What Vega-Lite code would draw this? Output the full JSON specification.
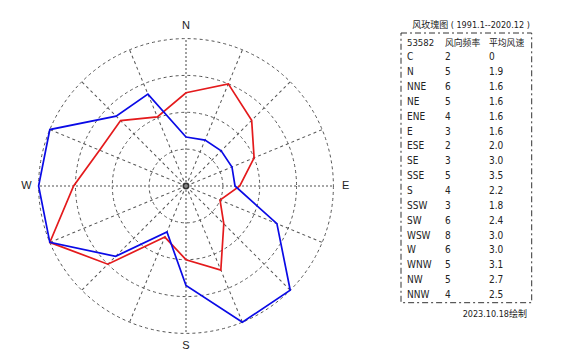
{
  "$schema": "https://vega.github.io/schema/vega-lite/v6.json",
  "padding": 0,
  "spacing": 0,
  "bounds": "flush",
  "background": "white",
  "config": {"view": {"stroke": null}, "concat": {"spacing": 0}},
  "datasets": {
    "dirs": [
      {"idx": 0, "dir": "N", "deg": 0, "blue": 1.33, "red": 2.53},
      {"idx": 1, "dir": "NNE", "deg": 22.5, "blue": 1.35, "red": 3.0},
      {"idx": 2, "dir": "NE", "deg": 45, "blue": 1.35, "red": 2.52},
      {"idx": 3, "dir": "ENE", "deg": 67.5, "blue": 1.35, "red": 2.0},
      {"idx": 4, "dir": "E", "deg": 90, "blue": 1.33, "red": 1.46},
      {"idx": 5, "dir": "ESE", "deg": 112.5, "blue": 2.67, "red": 1.0},
      {"idx": 6, "dir": "SE", "deg": 135, "blue": 4.0, "red": 1.45},
      {"idx": 7, "dir": "SSE", "deg": 157.5, "blue": 4.0, "red": 2.47},
      {"idx": 8, "dir": "S", "deg": 180, "blue": 2.7, "red": 2.0},
      {"idx": 9, "dir": "SSW", "deg": 202.5, "blue": 1.35, "red": 1.5},
      {"idx": 10, "dir": "SW", "deg": 225, "blue": 2.7, "red": 3.0},
      {"idx": 11, "dir": "WSW", "deg": 247.5, "blue": 4.0, "red": 4.0},
      {"idx": 12, "dir": "W", "deg": 270, "blue": 4.0, "red": 3.05},
      {"idx": 13, "dir": "WNW", "deg": 292.5, "blue": 4.0, "red": 2.54},
      {"idx": 14, "dir": "NW", "deg": 315, "blue": 2.68, "red": 2.51},
      {"idx": 15, "dir": "NNW", "deg": 337.5, "blue": 2.7, "red": 2.03}
    ],
    "rings": [{"r": 1}, {"r": 2}, {"r": 3}, {"r": 4}],
    "header": [{"i": 0, "a": "53582", "b": "风向频率", "c": "平均风速"}],
    "table": [
      {"i": 1, "a": "C", "b": "2", "c": "0"},
      {"i": 2, "a": "N", "b": "5", "c": "1.9"},
      {"i": 3, "a": "NNE", "b": "6", "c": "1.6"},
      {"i": 4, "a": "NE", "b": "5", "c": "1.6"},
      {"i": 5, "a": "ENE", "b": "4", "c": "1.6"},
      {"i": 6, "a": "E", "b": "3", "c": "1.6"},
      {"i": 7, "a": "ESE", "b": "2", "c": "2.0"},
      {"i": 8, "a": "SE", "b": "3", "c": "3.0"},
      {"i": 9, "a": "SSE", "b": "5", "c": "3.5"},
      {"i": 10, "a": "S", "b": "4", "c": "2.2"},
      {"i": 11, "a": "SSW", "b": "3", "c": "1.8"},
      {"i": 12, "a": "SW", "b": "6", "c": "2.4"},
      {"i": 13, "a": "WSW", "b": "8", "c": "3.0"},
      {"i": 14, "a": "W", "b": "6", "c": "3.0"},
      {"i": 15, "a": "WNW", "b": "5", "c": "3.1"},
      {"i": 16, "a": "NW", "b": "5", "c": "2.7"},
      {"i": 17, "a": "NNW", "b": "4", "c": "2.5"}
    ]
  },
  "hconcat": [
    {
      "width": 372,
      "height": 352,
      "layer": [
        {
          "data": {"name": "rings"},
          "mark": {"type": "point", "shape": "circle", "filled": false, "stroke": "#555555", "strokeWidth": 1, "strokeDash": [3, 3], "opacity": 1},
          "encoding": {
            "x": {"datum": 0, "type": "quantitative", "axis": null, "scale": {"domain": [-5.0475, 5.0475], "nice": false, "zero": false}},
            "y": {"datum": 0, "type": "quantitative", "axis": null, "scale": {"domain": [-4.5047, 5.0475], "nice": false, "zero": false}},
            "size": {"field": "r", "type": "quantitative", "scale": {"type": "pow", "exponent": 2, "domain": [0, 4], "range": [0, 86907]}, "legend": null}
          }
        },
        {
          "data": {"name": "dirs"},
          "transform": [{"filter": "datum.deg % 90 != 0"}],
          "mark": {"type": "point", "shape": "M0,0V-1", "filled": false, "stroke": "#555555", "strokeWidth": 1, "strokeDash": [3, 3], "size": 86907, "opacity": 1},
          "encoding": {
            "x": {"datum": 0, "type": "quantitative", "axis": null},
            "y": {"datum": 0, "type": "quantitative", "axis": null},
            "angle": {"field": "deg", "type": "quantitative", "scale": null}
          }
        },
        {
          "data": {"name": "dirs"},
          "transform": [{"filter": "datum.deg % 90 == 0"}],
          "mark": {"type": "point", "shape": "M0,0V-1", "filled": false, "stroke": "#8a8a8a", "strokeWidth": 1.6, "strokeDash": [2, 2], "size": 86907, "opacity": 1},
          "encoding": {
            "x": {"datum": 0, "type": "quantitative", "axis": null},
            "y": {"datum": 0, "type": "quantitative", "axis": null},
            "angle": {"field": "deg", "type": "quantitative", "scale": null}
          }
        },
        {
          "data": {"values": [{"c": 0}]},
          "mark": {"type": "point", "shape": "circle", "filled": false, "stroke": "#333333", "strokeWidth": 1.5, "size": 30, "opacity": 1},
          "encoding": {
            "x": {"field": "c", "type": "quantitative", "axis": null},
            "y": {"field": "c", "type": "quantitative", "axis": null}
          }
        },
        {
          "data": {"name": "dirs"},
          "transform": [
            {"calculate": "datum.red * sin(datum.deg * PI / 180)", "as": "px"},
            {"calculate": "datum.red * cos(datum.deg * PI / 180)", "as": "py"}
          ],
          "mark": {"type": "line", "interpolate": "linear-closed", "stroke": "#e41a1c", "strokeWidth": 1.7},
          "encoding": {
            "x": {"field": "px", "type": "quantitative", "axis": null},
            "y": {"field": "py", "type": "quantitative", "axis": null},
            "order": {"field": "idx", "type": "quantitative"}
          }
        },
        {
          "data": {"name": "dirs"},
          "transform": [
            {"calculate": "datum.blue * sin(datum.deg * PI / 180)", "as": "px"},
            {"calculate": "datum.blue * cos(datum.deg * PI / 180)", "as": "py"}
          ],
          "mark": {"type": "line", "interpolate": "linear-closed", "stroke": "#0a0ae6", "strokeWidth": 1.7},
          "encoding": {
            "x": {"field": "px", "type": "quantitative", "axis": null},
            "y": {"field": "py", "type": "quantitative", "axis": null},
            "order": {"field": "idx", "type": "quantitative"}
          }
        },
        {
          "data": {"name": "dirs"},
          "transform": [
            {"filter": "datum.deg % 90 == 0"},
            {"calculate": "4.33 * sin(datum.deg * PI / 180)", "as": "lx"},
            {"calculate": "4.33 * cos(datum.deg * PI / 180)", "as": "ly"}
          ],
          "mark": {"type": "text", "align": "center", "baseline": "middle", "fontSize": 11, "font": "Liberation Sans", "color": "#222222"},
          "encoding": {
            "x": {"field": "lx", "type": "quantitative", "axis": null},
            "y": {"field": "ly", "type": "quantitative", "axis": null},
            "text": {"field": "dir"}
          }
        }
      ]
    },
    {
      "width": 195,
      "height": 352,
      "layer": [
        {
          "data": {"values": [{"box": 1}]},
          "mark": {"type": "point", "shape": "M-0.4846,-1H0.4846V1H-0.4846Z", "filled": false, "stroke": "#333333", "strokeWidth": 1, "strokeDash": [6, 3, 2, 3], "size": 72738, "opacity": 1, "xOffset": 18.35, "yOffset": 125.35},
          "encoding": {
            "x": {"datum": 1, "type": "quantitative", "axis": null, "scale": {"domain": [0, 2], "range": [35, 117], "nice": false, "zero": false}},
            "y": {"datum": 0, "type": "quantitative", "axis": null, "scale": {"domain": [0, 17], "range": [42.5, 295], "nice": false, "zero": false}}
          }
        },
        {
          "data": {"name": "table"},
          "mark": {"type": "text", "align": "left", "baseline": "middle", "font": "DejaVu Sans Condensed, Liberation Sans, Noto Sans CJK SC", "fontSize": 10, "color": "#222222"},
          "encoding": {
            "x": {"datum": 0, "type": "quantitative", "axis": null},
            "y": {"field": "i", "type": "quantitative", "axis": null},
            "text": {"field": "a"}
          }
        },
        {
          "data": {"name": "table"},
          "mark": {"type": "text", "align": "left", "baseline": "middle", "dx": -3, "font": "DejaVu Sans Condensed, Liberation Sans, Noto Sans CJK SC", "fontSize": 10, "color": "#222222"},
          "encoding": {
            "x": {"datum": 1, "type": "quantitative", "axis": null},
            "y": {"field": "i", "type": "quantitative", "axis": null},
            "text": {"field": "b"}
          }
        },
        {
          "data": {"name": "table"},
          "mark": {"type": "text", "align": "left", "baseline": "middle", "font": "DejaVu Sans Condensed, Liberation Sans, Noto Sans CJK SC", "fontSize": 10, "color": "#222222"},
          "encoding": {
            "x": {"datum": 2, "type": "quantitative", "axis": null},
            "y": {"field": "i", "type": "quantitative", "axis": null},
            "text": {"field": "c"}
          }
        },
        {
          "data": {"name": "header"},
          "mark": {"type": "text", "align": "left", "baseline": "middle", "font": "DejaVu Sans Condensed, Liberation Sans, Noto Sans CJK SC", "fontSize": 9.5, "color": "#222222"},
          "encoding": {
            "x": {"datum": 0, "type": "quantitative", "axis": null},
            "y": {"field": "i", "type": "quantitative", "axis": null},
            "text": {"field": "a"}
          }
        },
        {
          "data": {"name": "header"},
          "mark": {"type": "text", "align": "left", "baseline": "middle", "dx": -3, "font": "Noto Sans CJK SC", "fontSize": 8.8, "color": "#222222"},
          "encoding": {
            "x": {"datum": 1, "type": "quantitative", "axis": null},
            "y": {"field": "i", "type": "quantitative", "axis": null},
            "text": {"field": "b"}
          }
        },
        {
          "data": {"name": "header"},
          "mark": {"type": "text", "align": "left", "baseline": "middle", "font": "Noto Sans CJK SC", "fontSize": 8.8, "color": "#222222"},
          "encoding": {
            "x": {"datum": 2, "type": "quantitative", "axis": null},
            "y": {"field": "i", "type": "quantitative", "axis": null},
            "text": {"field": "c"}
          }
        },
        {
          "data": {"values": [{"t": "风玫瑰图 ( 1991.1--2020.12 )"}]},
          "mark": {"type": "text", "align": "center", "baseline": "middle", "dx": 23, "dy": -17.5, "font": "DejaVu Sans Condensed, Liberation Sans, Noto Sans CJK SC", "fontSize": 9, "color": "#222222"},
          "encoding": {
            "x": {"datum": 1, "type": "quantitative", "axis": null},
            "y": {"datum": 0, "type": "quantitative", "axis": null},
            "text": {"field": "t"}
          }
        },
        {
          "data": {"values": [{"t": "2023.10.18绘制"}]},
          "mark": {"type": "text", "align": "right", "baseline": "middle", "dx": 38, "dy": 19, "font": "DejaVu Sans Condensed, Liberation Sans, Noto Sans CJK SC", "fontSize": 9, "color": "#222222"},
          "encoding": {
            "x": {"datum": 2, "type": "quantitative", "axis": null},
            "y": {"datum": 17, "type": "quantitative", "axis": null},
            "text": {"field": "t"}
          }
        }
      ]
    }
  ]
}
